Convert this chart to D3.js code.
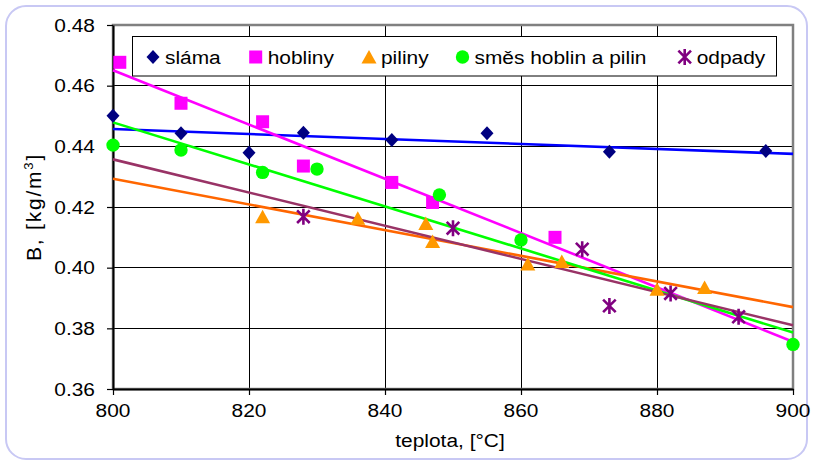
<!DOCTYPE html>
<html>
<head>
<meta charset="utf-8">
<script src="https://cdn.jsdelivr.net/npm/d3@7"></script>
<style>
  body { margin: 0; background: #fff; }
  svg { display: block; }
  text { font-family: "Liberation Sans", Arial, Helvetica, sans-serif; fill: #000; }
</style>
</head>
<body>
<svg id="chart" width="813" height="463"></svg>
<script>
// Axis ticks
const xTicks = [800, 820, 840, 860, 880, 900];
const yTicks = [0.36, 0.38, 0.40, 0.42, 0.44, 0.46, 0.48];

// Measured points: temperature [°C] and B [kg/m3]
const slamaT   = [800, 810, 820, 828, 841, 855, 873, 896];
const slamaB   = [0.4501, 0.4443, 0.4379, 0.4445, 0.4421, 0.4443, 0.4382, 0.4385];
const hoblinyT = [801, 810, 822, 828, 841, 847, 865];
const hoblinyB = [0.4677, 0.4542, 0.4481, 0.4335, 0.4281, 0.4215, 0.4100];
const pilinyT  = [822, 836, 846, 847, 861, 866, 880, 887];
const pilinyB  = [0.4168, 0.4163, 0.4146, 0.4086, 0.4012, 0.4020, 0.3929, 0.3935];
const smesT    = [800, 810, 822, 830, 848, 860, 900];
const smesB    = [0.4404, 0.4388, 0.4314, 0.4325, 0.4240, 0.4091, 0.3747];
const odpadyT  = [828, 850, 869, 873, 882, 892];
const odpadyB  = [0.4168, 0.4130, 0.4061, 0.3874, 0.3915, 0.3838];

// Linear trend lines: value at the start and end of the temperature range
const trendT       = [800, 900];
const slamaTrend   = [0.4457, 0.4375];
const hoblinyTrend = [0.4651, 0.3756];
const pilinyTrend  = [0.4293, 0.3870];
const smesTrend    = [0.4479, 0.3786];
const odpadyTrend  = [0.4357, 0.3810];

const seriesNames = ["sláma", "hobliny", "piliny", "směs hoblin a pilin", "odpady"];

const series = [
  { name: seriesNames[0], t: slamaT,   b: slamaB,   trend: slamaTrend,   marker: "diamond",  color: "#000080", line: "#0000FF" },
  { name: seriesNames[1], t: hoblinyT, b: hoblinyB, trend: hoblinyTrend, marker: "square",   color: "#FF00FF", line: "#FF00FF" },
  { name: seriesNames[2], t: pilinyT,  b: pilinyB,  trend: pilinyTrend,  marker: "triangle", color: "#FF9900", line: "#FF6600" },
  { name: seriesNames[3], t: smesT,    b: smesB,    trend: smesTrend,    marker: "circle",   color: "#00FF00", line: "#00FF00" },
  { name: seriesNames[4], t: odpadyT,  b: odpadyB,  trend: odpadyTrend,  marker: "star",     color: "#800080", line: "#993366" }
];

const svg = d3.select("#chart");
const W = 813, H = 463;
const plot = { left: 113, right: 793, top: 25, bottom: 389 };

const x = d3.scaleLinear().domain([800, 900]).range([plot.left, plot.right]);
const y = d3.scaleLinear().domain([0.36, 0.48]).range([plot.bottom, plot.top]);

const FONT = 19, STRETCH = 1.1;
function label(g, str, px, py, anchor) {
  return g.append("text")
    .attr("transform", `translate(${px},${py}) scale(${STRETCH},1)`)
    .attr("text-anchor", anchor || "start")
    .style("font-size", FONT + "px")
    .text(str);
}

// Outer rounded frame
svg.append("rect")
  .attr("x", 6).attr("y", 6).attr("width", W - 12).attr("height", H - 10)
  .attr("rx", 20).attr("ry", 20)
  .attr("fill", "#fff").attr("stroke", "#C8C8F4").attr("stroke-width", 2);

// Gridlines
const grid = svg.append("g");
grid.selectAll("line.h").data(yTicks.slice(1, -1)).join("line")
  .attr("x1", plot.left).attr("x2", plot.right)
  .attr("y1", d => y(d)).attr("y2", d => y(d))
  .attr("stroke", "#000").attr("stroke-width", 1).attr("shape-rendering", "crispEdges");
grid.selectAll("line.v").data(xTicks.slice(1, -1)).join("line")
  .attr("y1", plot.top).attr("y2", plot.bottom)
  .attr("x1", d => x(d)).attr("x2", d => x(d))
  .attr("stroke", "#000").attr("stroke-width", 1).attr("shape-rendering", "crispEdges");

// Plot area border
svg.append("rect")
  .attr("x", plot.left).attr("y", plot.top)
  .attr("width", plot.right - plot.left).attr("height", plot.bottom - plot.top)
  .attr("fill", "none").attr("stroke", "#808080").attr("stroke-width", 2.5);

// Axes (lines and ticks), labels drawn separately
const yAxis = svg.append("g").attr("transform", `translate(${plot.left},0)`)
  .call(d3.axisLeft(y).tickValues(yTicks).tickSize(6).tickSizeOuter(0).tickFormat(""));
const xAxis = svg.append("g").attr("transform", `translate(0,${plot.bottom})`)
  .call(d3.axisBottom(x).tickValues(xTicks).tickSize(6).tickSizeOuter(0).tickFormat(""));
[yAxis, xAxis].forEach(a => {
  a.select(".domain").attr("stroke", "#000").attr("stroke-width", 2);
  a.selectAll(".tick line").attr("stroke", "#000").attr("stroke-width", 1.2);
});

const labels = svg.append("g");
yTicks.forEach(v => label(labels, d3.format(".2f")(v), 95, y(v) + 6.7, "end"));
xTicks.forEach(v => label(labels, String(v), x(v), 417, "middle"));
label(labels, "teplota, [°C]", (plot.left + plot.right) / 2 - 3, 447, "middle");

// Y axis title with superscript
const yTitle = svg.append("text")
  .attr("transform", `translate(41,${(plot.top + plot.bottom) / 2}) rotate(-90)`)
  .attr("text-anchor", "middle")
  .style("font-size", "21px")
  .style("letter-spacing", "1.8px");
yTitle.append("tspan").text("B,  [kg/m");
yTitle.append("tspan").attr("dy", -8).style("font-size", "13px").text("3");
yTitle.append("tspan").attr("dy", 8).text("]");

// Marker shapes
function drawMarker(g, type, color, cx, cy) {
  if (type === "diamond") {
    g.append("path").attr("d", `M${cx},${cy - 7}L${cx + 6.5},${cy}L${cx},${cy + 7}L${cx - 6.5},${cy}Z`).attr("fill", color);
  } else if (type === "square") {
    g.append("rect").attr("x", cx - 6.5).attr("y", cy - 6.5).attr("width", 13).attr("height", 13).attr("fill", color);
  } else if (type === "triangle") {
    g.append("path").attr("d", `M${cx},${cy - 7}L${cx + 7.5},${cy + 6.5}L${cx - 7.5},${cy + 6.5}Z`).attr("fill", color);
  } else if (type === "circle") {
    g.append("circle").attr("cx", cx).attr("cy", cy).attr("r", 6.7).attr("fill", color);
  } else if (type === "star") {
    const r = 8, d = 6.3;
    g.append("path")
      .attr("d", `M${cx},${cy - r}L${cx},${cy + r}M${cx - d},${cy - d}L${cx + d},${cy + d}M${cx - d},${cy + d}L${cx + d},${cy - d}`)
      .attr("stroke", color).attr("stroke-width", 2.6).attr("fill", "none");
  }
}

// Trend lines
const lineGen = d3.line().x(d => x(d[0])).y(d => y(d[1]));
const trends = svg.append("g");
series.forEach(s => {
  trends.append("path")
    .attr("d", lineGen(d3.zip(trendT, s.trend)))
    .attr("fill", "none").attr("stroke", s.line).attr("stroke-width", 2.6);
});

// Data points
const pts = svg.append("g");
series.forEach(s => {
  d3.zip(s.t, s.b).forEach(([t, b]) => drawMarker(pts, s.marker, s.color, x(t), y(b)));
});

// Legend
const legend = svg.append("g");
legend.append("rect").attr("x", 132.5).attr("y", 36.5).attr("width", 644).attr("height", 39.5)
  .attr("fill", "#fff").attr("stroke", "#000").attr("stroke-width", 1);
const legendMarkerX = [153, 255.7, 369, 462.5, 684.7];
series.forEach((s, i) => {
  drawMarker(legend, s.marker, s.color, legendMarkerX[i], 57);
  label(legend, s.name, legendMarkerX[i] + 12, 63.5, "start");
});
</script>
</body>
</html>
